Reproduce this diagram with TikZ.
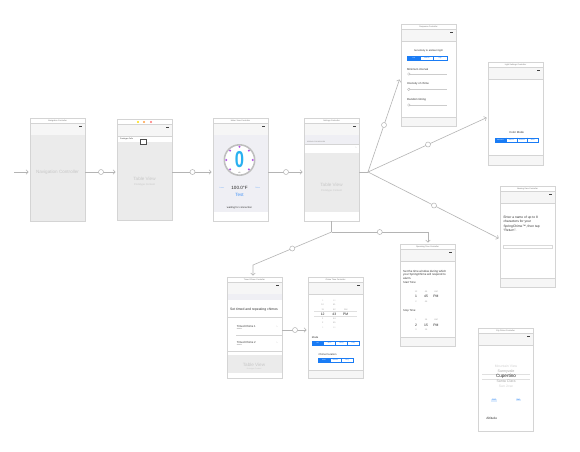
\documentclass[tikz,border=0pt]{standalone}
\usepackage{fontspec}
\setmainfont{Liberation Sans}
\usetikzlibrary{arrows.meta}
\definecolor{frc}{HTML}{D4D4D4}
\definecolor{navg}{HTML}{F6F6F6}
\definecolor{bodyg}{HTML}{EBEBEB}
\definecolor{contg}{HTML}{EFEFF4}
\definecolor{lineg}{HTML}{B4B4B4}
\definecolor{sblue}{HTML}{1A7CF5}
\definecolor{lblue}{HTML}{DCEBFD}
\definecolor{gaugeblue}{HTML}{2AB0F0}
\definecolor{purp}{HTML}{B14FE6}
\newcommand\fsz[1]{\fontsize{#1}{#1}\selectfont}
\tikzset{
 screen/.style={draw=frc, fill=white, line width=0.5pt, minimum width=55pt, inner sep=0, outer sep=0},
 seprule/.style={draw=frc, line width=0.3pt},
 ttl/.style={inner sep=0, font=\fsz{2}, text=black!55},
 bigl/.style={inner sep=0, font=\fsz{4.6}, text=black!22},
 smalll/.style={inner sep=0, font=\fsz{2.6}, text=black!22},
 lbl/.style={inner sep=0, font=\fsz{2.8}, text=black!80},
 segt/.style={inner sep=0, font=\fsz{1.5}},
 segb/.style={draw=sblue, line width=0.3pt},
 conn/.style={draw=lineg, line width=0.6pt},
 arr/.style={conn, -{Straight Barb[length=2pt,width=4.5pt]}, shorten >=1.5pt},
 segue/.style={circle, draw=lineg, fill=white, line width=0.5pt, minimum size=5pt, inner sep=0},
 pk/.style={inner sep=0, font=\fsz{2.2}, text=black!35},
 pko/.style={inner sep=0, font=\fsz{2.2}, text=black!18},
 pkm/.style={inner sep=0, font=\fsz{3.4}, text=black!85},
}
\newcommand\phone[6]{%
 \begin{scope}[shift={(#2,#3)}]
 \node[screen, minimum height=#5pt, anchor=north west] (#1) at (0,0) {};
 \fill[navg] (0.3,5) rectangle (54.7,17);
 \draw[seprule] (0.3,5) -- (54.7,5) (0.3,17) -- (54.7,17);
 \node[ttl] at (27.5,2.6) {#4};
 \fill[black!75] (49.3,7.6) rectangle (52.3,9);
 #6
 \draw[frc, line width=0.5pt] (#1.north west) rectangle (#1.south east);
 \end{scope}}
\newcommand\segctl[6]{%
 \pgfmathsetmacro\segw{#3/#5}
 \fill[sblue] (#1,#2) rectangle ++(\segw,#4);
 \draw[segb] (#1,#2) rectangle ++(#3,#4);
 \foreach \t [count=\k from 0] in {#6} {
  \ifnum\k>0
   \draw[segb] ({#1+\k*\segw},#2) -- ++(0,#4);
   \node[segt, text=sblue] at ({#1+(\k+0.5)*\segw},{#2+#4/2}) {\t};
  \else
   \node[segt, text=white] at ({#1+0.5*\segw},{#2+#4/2}) {\t};
  \fi}}
\newcommand\slider[3]{%
 \draw[black!20, line width=0.5pt] (#1,#2) -- ++(#3,0);
 \draw[black!30, fill=white, line width=0.3pt] (#1+1.3,#2) circle (1.3);}
\begin{document}
\begin{tikzpicture}[x=1pt,y=-1pt]
\useasboundingbox[fill=white] (0,0) rectangle (580,451);

% 1 navigation controller
\phone{navc}{30}{118}{Navigation Controller}{103}{
 \fill[bodyg] (0.3,17.2) rectangle (54.7,102.7);
 \node[bigl] at (27.5,54) {Navigation Controller};
}

% 2 root table
\phone{tbl}{117}{119}{}{101}{
 \fill[yellow!80!orange] (21,3) circle (1.1);
 \fill[orange!75] (27,3) circle (1.1);
 \fill[red!55] (34,3) circle (1.1);
 \node[lbl, font=\fsz{1.9}, anchor=west] at (3,19.8) {Prototype Cells};
 \fill[bodyg] (0.3,23) rectangle (54.7,100.7);
 \draw[black!70, fill=white, line width=0.5pt] (23,20) rectangle (29,25.3);
 \node[bigl] at (27.5,60) {Table View};
 \node[smalll] at (27.5,66) {Prototype Content};
}

% 3 meter
\phone{met}{213}{118}{Meter View Controller}{103}{
 \fill[contg] (0.3,17.2) rectangle (54.7,94);
 \fill[white] (26.5,42) circle (16);
 \draw[black!25, line width=1.6pt] (26.5,42) circle (15.2);
 \foreach \a in {0,45,135,180,225,270,315} \fill[purp] (26.5,42) ++(\a:13.3) circle (1.1);
 \node[inner sep=0, font=\fsz{23}\bfseries, text=gaugeblue, xscale=0.72] at (26.5,42) {0};
 \node[inner sep=0, font=\fsz{1.7}, text=black!60] at (26.5,54.5) {dB};
 \node[inner sep=0, font=\fsz{4.6}, text=black!85] at (26.5,70.3) {100.0°F};
 \node[inner sep=0, font=\fsz{1.8}, text=sblue!60] at (8.7,70.3) {Lower};
 \node[inner sep=0, font=\fsz{1.8}, text=sblue!60] at (44.7,70.3) {Raise};
 \node[inner sep=0, font=\fsz{4.6}, text=sblue!80] at (26.5,77.3) {Test};
 \node[inner sep=0, font=\fsz{2.6}, text=black!80] at (26.5,90.3) {waiting for connection};
}

% 4 devices table
\phone{pro}{304}{118}{Settings Controller}{103}{
 \fill[contg] (0.3,17.2) rectangle (54.7,26);
 \node[inner sep=0, font=\fsz{1.6}, text=black!50, anchor=west] at (3,23.5) {SEARCH FOR DEVICES};
 \draw[seprule] (0.3,26) -- (54.7,26);
 \node[inner sep=0, font=\fsz{2.2}, text=black!30] at (52,30) {>};
 \fill[bodyg] (0.3,34.7) rectangle (54.7,93.7);
 \node[bigl] at (27.5,67) {Table View};
 \node[smalll] at (27.5,72.7) {Prototype Content};
}

% 5 sensitivity
\phone{sens}{401}{24}{Response Controller}{102}{
 \node[lbl, font=\fsz{2.5}] at (27.5,26.7) {Sensitivity to ambient light};
 \segctl{6.3}{32}{39.4}{4}{3}{Low,Medium,High}
 \node[lbl, anchor=west, font=\fsz{2.8}] at (6,45) {Minimum interval};
 \slider{6.5}{50}{39.5}
 \node[lbl, anchor=west, font=\fsz{2.8}] at (6,60) {Intensity of chime};
 \slider{6.5}{65.3}{39.5}
 \node[lbl, anchor=west, font=\fsz{2.8}] at (6,76) {Random timing};
 \slider{6.5}{81}{39.5}
 \fill[navg] (0.3,92.7) rectangle (54.7,101.7);
 \draw[seprule] (0.3,92.7) -- (54.7,92.7);
}

% 6 light settings
\phone{last}{488}{62}{Light Settings Controller}{103}{
 \node[lbl, font=\fsz{2.8}] at (28.7,70.7) {Color Mode};
 \segctl{7}{75.7}{43.3}{4.6}{4}{Automatic,Manual,Random,White}
 \fill[navg] (0.3,93) rectangle (54.7,102.7);
 \draw[seprule] (0.3,93) -- (54.7,93);
}

% 7 naming
\phone{nam}{500}{186}{Naming View Controller}{101}{
 \node[lbl, anchor=north west, align=left, font=\fontsize{3.3}{4.1}\selectfont] at (3.3,30.3)
  {Enter a name of up to 8\\characters for your\\SpringChime™, then tap\\“Return”.};
 \draw[black!15, line width=0.3pt] (3.3,59) rectangle (52,62.3);
 \fill[navg] (0.3,92) rectangle (54.7,100.7);
 \draw[seprule] (0.3,92) -- (54.7,92);
}

% 8 operating time
\phone{tim}{400}{244}{Operating Time Controller}{102}{
 \node[lbl, anchor=north west, align=left, font=\fontsize{2.9}{3.2}\selectfont] at (3,26.3)
  {Set the time window during which\\your SpringChime will respond to\\alarm.};
 \node[lbl, anchor=west, font=\fsz{2.7}] at (3,38.7) {Start Time:};
 \foreach \v/\x in {12/16,44/26,AM/36} \node[pk] at (\x,47.7) {\v};
 \foreach \v/\x in {1/16,45/26,PM/36} \node[pkm] at (\x,52.7) {\v};
 \foreach \v/\x in {2/16,46/26} \node[pk] at (\x,57.7) {\v};
 \node[lbl, anchor=west, font=\fsz{2.7}] at (3,67) {Stop Time:};
 \foreach \v/\x in {1/16,14/26,AM/36} \node[pk] at (\x,76) {\v};
 \foreach \v/\x in {2/16,15/26,PM/36} \node[pkm] at (\x,81) {\v};
 \foreach \v/\x in {3/16,16/26} \node[pk] at (\x,86) {\v};
 \fill[navg] (0.3,92.7) rectangle (54.7,101.7);
 \draw[seprule] (0.3,92.7) -- (54.7,92.7);
}

% 9 timed chimes
\phone{chm}{227}{277}{Timed Chime Controller}{101}{
 \fill[contg] (0.3,17.2) rectangle (54.7,22.5);
 \node[lbl, font=\fsz{3.4}] at (27,32.3) {Set timed and repeating chimes};
 \draw[seprule] (0.3,40) -- (54.7,40) (9,58) -- (54.7,58) (0.3,74.5) -- (54.7,74.5);
 \node[lbl, anchor=west, font=\fsz{2.8}] at (9.7,49.3) {Timed Chime 1};
 \node[inner sep=0, anchor=west, font=\fsz{1.5}, text=black!60] at (9.7,52.3) {Subtitle};
 \node[inner sep=0, font=\fsz{2.2}, text=black!30] at (50,50) {>};
 \node[lbl, anchor=west, font=\fsz{2.8}] at (9.7,65.3) {Timed Chime 2};
 \node[inner sep=0, anchor=west, font=\fsz{1.5}, text=black!60] at (9.7,68.3) {Subtitle};
 \node[inner sep=0, font=\fsz{2.2}, text=black!30] at (50,66) {>};
 \fill[bodyg] (0.3,78) rectangle (54.7,96.3);
 \node[bigl] at (27,88) {Table View};
 \node[smalll, font=\fsz{1.8}] at (27,92.5) {Prototype Content};
}

% 10 chime time
\phone{dat}{308}{277}{Chime Time Controller}{101}{
 \draw[black!12, line width=0.3pt] (6,34.5) -- (49,34.5) (6,39.5) -- (49,39.5);
 \foreach \a/\b/\y in {9/40/23.7,3/46/50.3} {\node[pko] at (14.7,\y) {\a}; \node[pko] at (26.3,\y) {\b};}
 \foreach \a/\b/\y in {10/41/28,2/45/46} {\node[pk] at (14.7,\y) {\a}; \node[pk] at (26.3,\y) {\b};}
 \node[pk] at (14.7,32.3) {11}; \node[pk] at (26.3,32.3) {42}; \node[pk] at (37.7,32.3) {AM};
 \node[pk] at (14.7,41.7) {1}; \node[pk] at (26.3,41.7) {44};
 \node[pkm] at (14.7,37) {12}; \node[pkm] at (26.3,37) {43}; \node[pkm] at (37.7,37) {PM};
 \node[lbl, anchor=west, font=\fsz{2.6}] at (3.7,60.7) {Mode};
 \segctl{3.7}{64}{47.6}{4}{4}{Off,Once,Hourly,Daily}
 \node[lbl, anchor=west, font=\fsz{2.6}] at (10.3,77.3) {Chime Duration};
 \segctl{10.3}{81}{34.4}{3.7}{3}{Short,Medium,Long}
 \fill[navg] (0.3,93) rectangle (54.7,100.7);
 \draw[seprule] (0.3,93) -- (54.7,93);
}

% 11 city picker
\phone{pck}{478}{328}{City Picker Controller}{103}{
 \draw[black!12, line width=0.3pt] (4,46.2) -- (52,46.2) (4,51.3) -- (52,51.3);
 \node[pko, font=\fsz{3.4}] at (28,38.7) {Mountain View};
 \node[pk, font=\fsz{3.6}] at (28,43.7) {Sunnyvale};
 \node[pkm, font=\fsz{4.6}] at (28,48.7) {Cupertino};
 \node[pk, font=\fsz{3.6}] at (28,53.7) {Santa Clara};
 \node[pko, font=\fsz{3.4}] at (28,58.7) {San Jose};
 \node[inner sep=0.7pt, fill=lblue, text=sblue, font=\fsz{2.2}] at (16,72) {Cell};
 \node[inner sep=0.7pt, fill=lblue, text=sblue, font=\fsz{2.2}] at (40.3,72) {Set};
 \node[lbl, font=\fsz{3.2}] at (13.7,90.3) {Altitude};
}

% connectors
\coordinate (r1) at (0,172);
\coordinate (start) at (14,172);
\draw[arr] (start) -- (start -| navc.west);
\draw[arr] (navc.east |- r1) -- node[segue]{} (tbl.west |- r1);
\draw[arr] (tbl.east |- r1) -- node[segue]{} (met.west |- r1);
\draw[arr] (met.east |- r1) -- node[segue]{} (pro.west |- r1);
\coordinate (F) at (368,172);
\draw[conn] (pro.east |- r1) -- (F);
\coordinate (sensin) at (400,78);
\coordinate (lastin) at (488,117);
\coordinate (namin) at (500,239);
\draw[arr] (F) -- node[segue]{} (sensin);
\draw[arr] (F) -- node[segue]{} (lastin);
\draw[arr] (F) -- node[segue]{} (namin);
\coordinate (D) at (pro.south |- 0,232);
\draw[conn] (pro.south) -- (D);
\coordinate (B1) at (253,265);
\coordinate (B2) at (428,232);
\draw[arr] (D) -- node[segue]{} (B1) -- (B1 |- chm.north);
\draw[arr] (D) -- node[segue]{} (B2) -- (B2 |- tim.north);
\coordinate (r2) at (0,330);
\draw[arr] (chm.east |- r2) -- node[segue]{} (dat.west |- r2);
\end{tikzpicture}
\end{document}
